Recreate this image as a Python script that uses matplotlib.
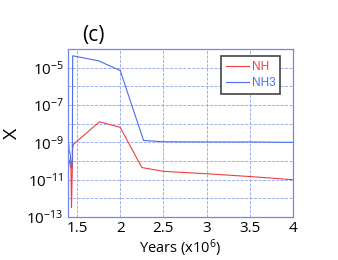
import math
import matplotlib
matplotlib.use('Agg')
import matplotlib.pyplot as plt
from matplotlib.ticker import FixedLocator, FuncFormatter

plt.rcParams['font.family'] = ['Open Sans', 'DejaVu Sans']
plt.rcParams['mathtext.fontset'] = 'custom'
plt.rcParams['mathtext.rm'] = 'Open Sans'
plt.rcParams['mathtext.it'] = 'Open Sans:italic'

# NH abundance (log10) vs time (x10^6 years)
nh_years = [1.405, 1.41, 1.415, 1.42, 1.43, 1.436, 1.44, 1.445, 1.45, 1.46,
            1.76, 2.0, 2.25, 2.5, 3.0, 3.5, 4.0]
nh_log = [-9.9, -10.1, -10.0, -10.2, -10.4, -12.5, -11.6, -10.6, -9.3, -9.1,
          -7.9, -8.2, -10.35, -10.55, -10.68, -10.83, -11.0]

# NH3 abundance (log10)
nh3_years = [1.405, 1.41, 1.415, 1.42, 1.43, 1.44, 1.445, 1.45, 1.75,
             2.0, 2.27, 2.5, 3.0, 3.5, 4.0]
nh3_log = [-9.1, -9.5, -9.5, -9.6, -10.1, -10.4, -9.9, -4.37, -4.64,
           -5.16, -8.9, -8.97, -8.98, -8.98, -9.0]

x_ticks = [1.5, 2, 2.5, 3, 3.5, 4]

nh = [10 ** v for v in nh_log]
nh3 = [10 ** v for v in nh3_log]

fig = plt.figure(figsize=(3.38, 2.6), dpi=100)
ax = fig.add_axes([0.201, 0.165, 0.666, 0.647])

ax.plot(nh_years, nh, color='#ee4040', linewidth=0.8, label='NH')
ax.plot(nh3_years, nh3, color='#4a6cf0', linewidth=0.8, label='NH3')

ax.set_yscale('log')
ax.set_xlim(1.395, 4.0)
ax.set_ylim(1e-13, 1e-4)
ax.yaxis.set_major_locator(FixedLocator([10.0 ** e for e in range(-13, -3)]))
ax.yaxis.set_minor_locator(FixedLocator([]))


def decade_label(v, pos):
    e = round(math.log10(v))
    return r'$10^{%d}$' % e if e % 2 else ''


ax.yaxis.set_major_formatter(FuncFormatter(decade_label))
ax.set_xticks(x_ticks)
ax.set_xticklabels(['1.5', '2', '2.5', '3', '3.5', '4'])

ax.tick_params(length=0, labelsize=11, pad=3)
ax.grid(True, color='#8fa2f2', linestyle='--', linewidth=0.6)
for s in ax.spines.values():
    s.set_color('#7088ee')
    s.set_linewidth(0.9)

ax.set_xlabel('Years (x10$^6$)', fontsize=10.5, labelpad=1)
ax.set_ylabel('X', fontsize=14)
ax.yaxis.set_label_coords(-0.21, 0.5)
fig.text(93 / 338, 1 - 35 / 260, '(c)', fontsize=15, ha='center', va='center')

leg = ax.legend(loc='upper right', bbox_to_anchor=(0.942, 0.958),
                borderaxespad=0, prop={'family': 'Liberation Sans', 'size': 8.5},
                fancybox=False, framealpha=1, edgecolor='#444444',
                handlelength=2.0, handletextpad=0.2, borderpad=0.4,
                labelspacing=0.35)
leg.get_frame().set_linewidth(1.2)
for txt, col in zip(leg.get_texts(), ['#ee4040', '#4a6cf0']):
    txt.set_color(col)

plt.savefig('out.png', dpi=100, facecolor='white')
plt.close()
